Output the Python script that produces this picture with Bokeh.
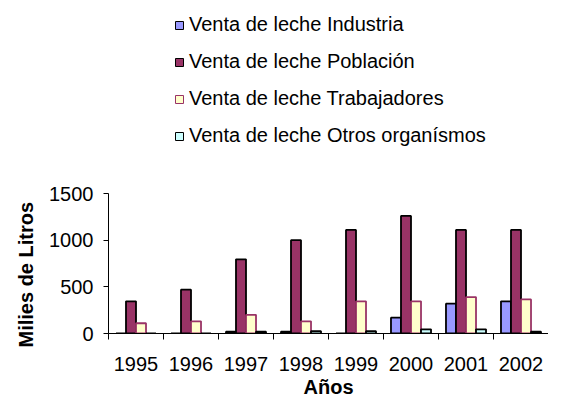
from bokeh.plotting import figure
from bokeh.models import Range1d, FixedTicker, Legend, LegendItem, Title
from bokeh.embed import file_html
from bokeh.resources import INLINE

years = ["1995", "1996", "1997", "1998", "1999", "2000", "2001", "2002"]
industria = [0, 0, 20, 20, 0, 170, 320, 345]
poblacion = [345, 470, 795, 1000, 1110, 1260, 1110, 1110]
trabajadores = [110, 130, 200, 130, 345, 345, 390, 365]
otros = [0, 0, 20, 25, 25, 45, 45, 20]
series_names = ["Venta de leche Industria", "Venta de leche Población",
                "Venta de leche Trabajadores", "Venta de leche Otros organísmos"]
fill_colors = ["#9999FF", "#993366", "#FFFFCC", "#CCFFFF"]
line_colors = ["#000000", "#000000", "#993366", "#000000"]
y_ticks = [0, 500, 1000, 1500]
x_title = "Años"
y_title = "Milies de Litros"

FONT = "Liberation Sans"
FS = "20px"
BAR_W = 0.182

W, H = 548, 401
LEFT = 108          # frame left edge (px)
BOTTOM = 68         # space below the frame (px)
AXIS_PX = 140       # pixel height of the 0..1500 value axis
FRAME_H = H - BOTTOM
Y_MAX = max(y_ticks)
Y_END = Y_MAX * FRAME_H / AXIS_PX
NAN = float("nan")

p = figure(width=W, height=H, output_backend="svg", toolbar_location=None,
           x_range=Range1d(0, len(years)), y_range=Range1d(0, Y_END),
           min_border_left=LEFT, min_border_right=0, min_border_top=0,
           min_border_bottom=BOTTOM)

series = [industria, poblacion, trabajadores, otros]
items = []
for k, (vals, name, fc, lc) in enumerate(zip(series, series_names, fill_colors, line_colors)):
    xs = [i + 0.5 + (k - 1.5) * BAR_W for i in range(len(years))]
    p.vbar(x=xs, top=vals, width=BAR_W, fill_color=fc, line_color=lc, line_width=1.8)
    # square legend key (a single non-plotted NaN point)
    key = p.scatter(x=[NAN], y=[NAN], marker="square", size=8,
                    fill_color=fc, line_color=lc, line_width=1)
    items.append(LegendItem(label=name, renderers=[key]))

legend = Legend(items=items, location=(61, 186), orientation="vertical", padding=0, margin=0,
                spacing=14, glyph_width=20, glyph_height=20, label_height=20, label_standoff=-7,
                label_text_font=FONT, label_text_font_size=FS, label_text_color="black",
                border_line_color=None, background_fill_alpha=0)
p.add_layout(legend)

p.xgrid.visible = False
p.ygrid.visible = False
p.outline_line_color = None

xa = p.xaxis[0]
xa.ticker = FixedTicker(ticks=[i + 0.5 for i in range(len(years))],
                        minor_ticks=list(range(len(years) + 1)))
xa.major_label_overrides = {i + 0.5: y for i, y in enumerate(years)}
xa.major_tick_in = 0
xa.major_tick_out = 6
xa.major_tick_line_color = None
xa.minor_tick_in = 0
xa.minor_tick_out = 6
xa.minor_tick_line_color = "black"
xa.axis_line_color = "black"
xa.major_label_standoff = 17
xa.major_label_text_font = FONT
xa.major_label_text_font_size = FS
xa.major_label_text_color = "black"
xa.axis_label = x_title
xa.axis_label_standoff = 2
xa.axis_label_text_font = FONT
xa.axis_label_text_font_size = FS
xa.axis_label_text_font_style = "bold"
xa.axis_label_text_color = "black"

ya = p.yaxis[0]
ya.bounds = (0, Y_MAX)
ya.ticker = FixedTicker(ticks=y_ticks, minor_ticks=[])
ya.major_tick_in = 0
ya.major_tick_out = 5
ya.minor_tick_line_color = None
ya.axis_line_color = "black"
ya.major_tick_line_color = "black"
ya.major_label_standoff = 10
ya.major_label_text_font = FONT
ya.major_label_text_font_size = FS
ya.major_label_text_color = "black"

p.add_layout(Title(text=y_title, align="left", offset=-14, standoff=19,
                   text_font=FONT, text_font_size=FS, text_font_style="bold",
                   text_color="black"), "left")

open("out.html", "w").write(file_html(p, INLINE))
